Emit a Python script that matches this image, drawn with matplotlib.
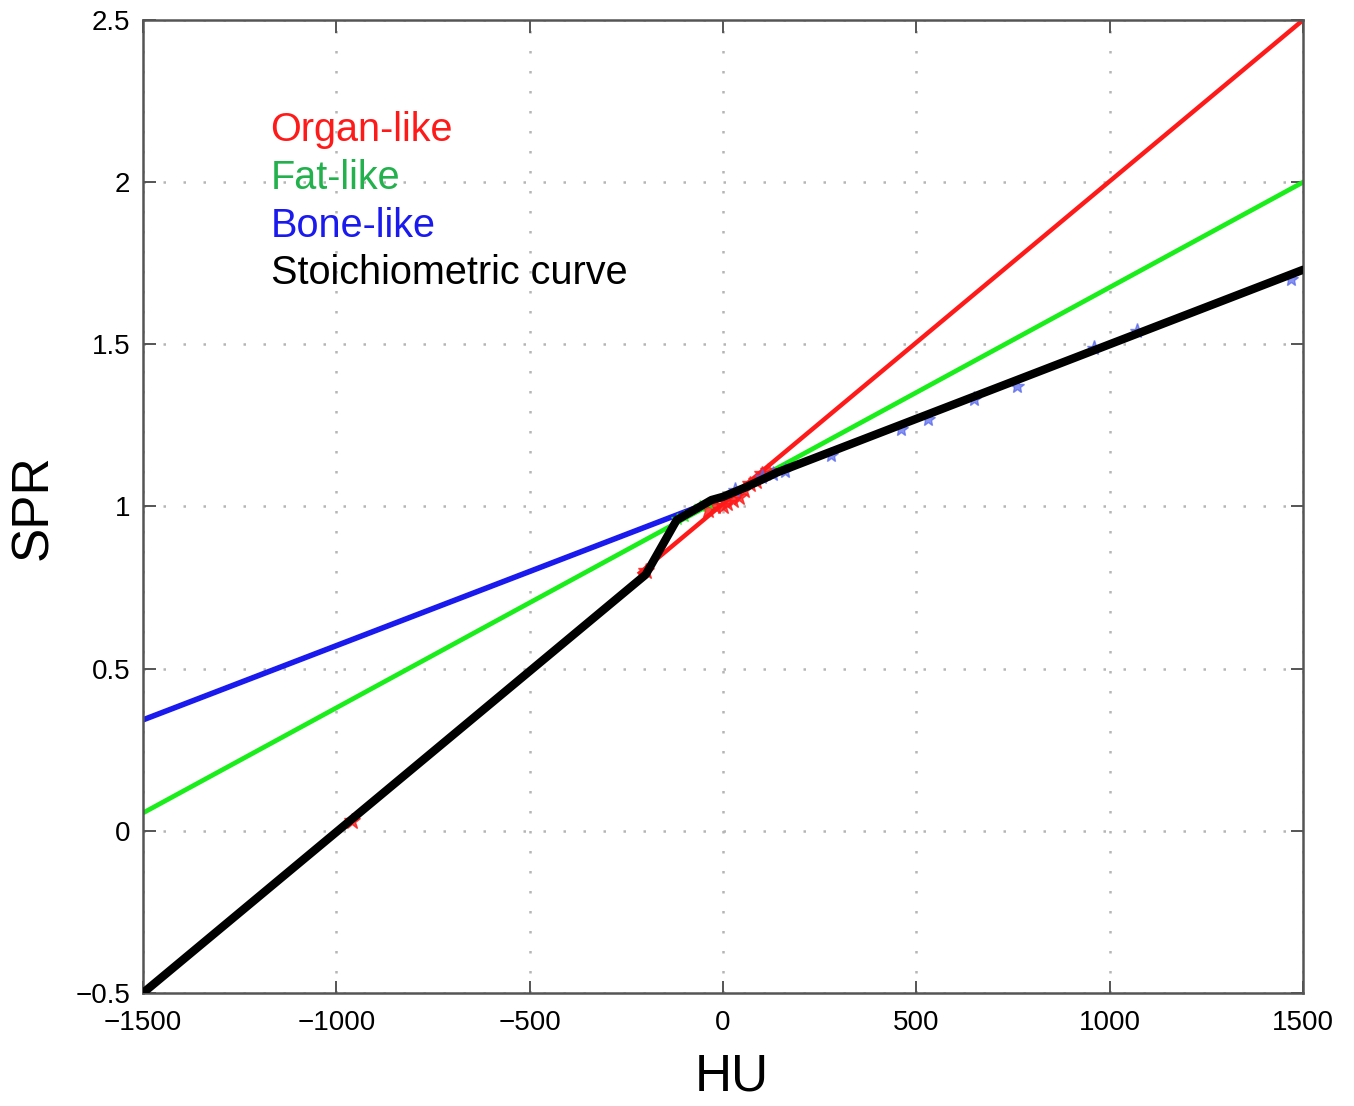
import matplotlib
matplotlib.use("Agg")
import matplotlib.pyplot as plt

# fitted calibration lines (HU -> SPR)
organ_hu = [-215, 1500]
organ_spr = [0.795, 2.5]
fat_hu = [-1500, 1500]
fat_spr = [0.055, 2.0]
bone_hu = [-1500, 25]
bone_spr = [0.342, 1.04]
stoich_hu = [-1500, -200, -120, -30, 0, 60, 140, 1500]
stoich_spr = [-0.5, 0.79, 0.958, 1.02, 1.03, 1.06, 1.105, 1.73]

# individual tissue points
organ_pts_hu = [-960, -200, -40, -20, 0, 10, 25, 40, 55, 70, 85, 100, 115]
organ_pts_spr = [0.03, 0.80, 0.99, 1.00, 1.00, 1.01, 1.02, 1.03, 1.05, 1.07, 1.08, 1.10, 1.11]
fat_pts_hu = [-120, -100, -60, -40]
fat_pts_spr = [0.96, 0.97, 1.00, 1.01]
bone_pts_hu = [30, 100, 130, 160, 280, 460, 530, 650, 760, 960, 1070, 1470]
bone_pts_spr = [1.05, 1.09, 1.10, 1.11, 1.16, 1.24, 1.27, 1.33, 1.37, 1.49, 1.54, 1.70]

plt.rcParams.update({
    "font.family": ["Liberation Sans", "DejaVu Sans"],
    "xtick.direction": "in",
    "ytick.direction": "in",
    "xtick.top": True,
    "ytick.right": True,
})

RED = "#ff1a1a"
GREEN = "#1aee1a"
BLUE = "#1a1aee"
BLACK = "#000000"

fig = plt.figure(figsize=(13.54, 11.06), dpi=100)
ax = fig.add_axes([0.1056, 0.1022, 0.8568, 0.8797])

ax.plot(fat_hu, fat_spr, color=GREEN, lw=3.4, zorder=2)
ax.plot(bone_hu, bone_spr, color=BLUE, lw=4.0, zorder=2)
ax.plot(organ_hu, organ_spr, color=RED, lw=3.2, zorder=2)

ax.plot(organ_pts_hu, organ_pts_spr, ls="none", marker="*", ms=12,
        color=RED, alpha=0.8, zorder=3)
ax.plot(fat_pts_hu, fat_pts_spr, ls="none", marker="*", ms=9,
        color=GREEN, alpha=0.8, zorder=3)
ax.plot(bone_pts_hu, bone_pts_spr, ls="none", marker="*", ms=11,
        color="#5566ee", alpha=0.7, zorder=3)

ax.plot(stoich_hu, stoich_spr, color=BLACK, lw=6.0, zorder=4,
        solid_joinstyle="round", solid_capstyle="round")

ax.set_xlim(-1500, 1500)
ax.set_ylim(-0.5, 2.5)
ax.set_xticks([-1500, -1000, -500, 0, 500, 1000, 1500])
ax.set_yticks([-0.5, 0, 0.5, 1, 1.5, 2, 2.5])
ax.set_yticklabels(["\u22120.5", "0", "0.5", "1", "1.5", "2", "2.5"])
ax.tick_params(labelsize=20, length=9, width=1.4, color="#555555")
ax.tick_params(axis="x", pad=12)
ax.tick_params(axis="y", pad=9)
for s in ax.spines.values():
    s.set_color("#555555")
    s.set_linewidth(1.8)

ax.grid(True, color="#b5b5b5", linestyle=(0, (1, 7)), linewidth=1.8)

# axis titles placed in figure coordinates
fig.text(0.5406, 0.026, "HU", fontsize=37, ha="center", va="center")
fig.text(0.025, 0.541, "SPR", fontsize=37, ha="center", va="center",
         rotation=90)

labels = ["Organ-like", "Fat-like", "Bone-like", "Stoichiometric curve"]
colors = [RED, "#22b14c", BLUE, BLACK]
for i, (lab, c) in enumerate(zip(labels, colors)):
    ax.text(-1170, 2.16 - i * 0.147, lab, color=c, fontsize=28.5,
            ha="left", va="center")

fig.savefig("out.png", dpi=100)
